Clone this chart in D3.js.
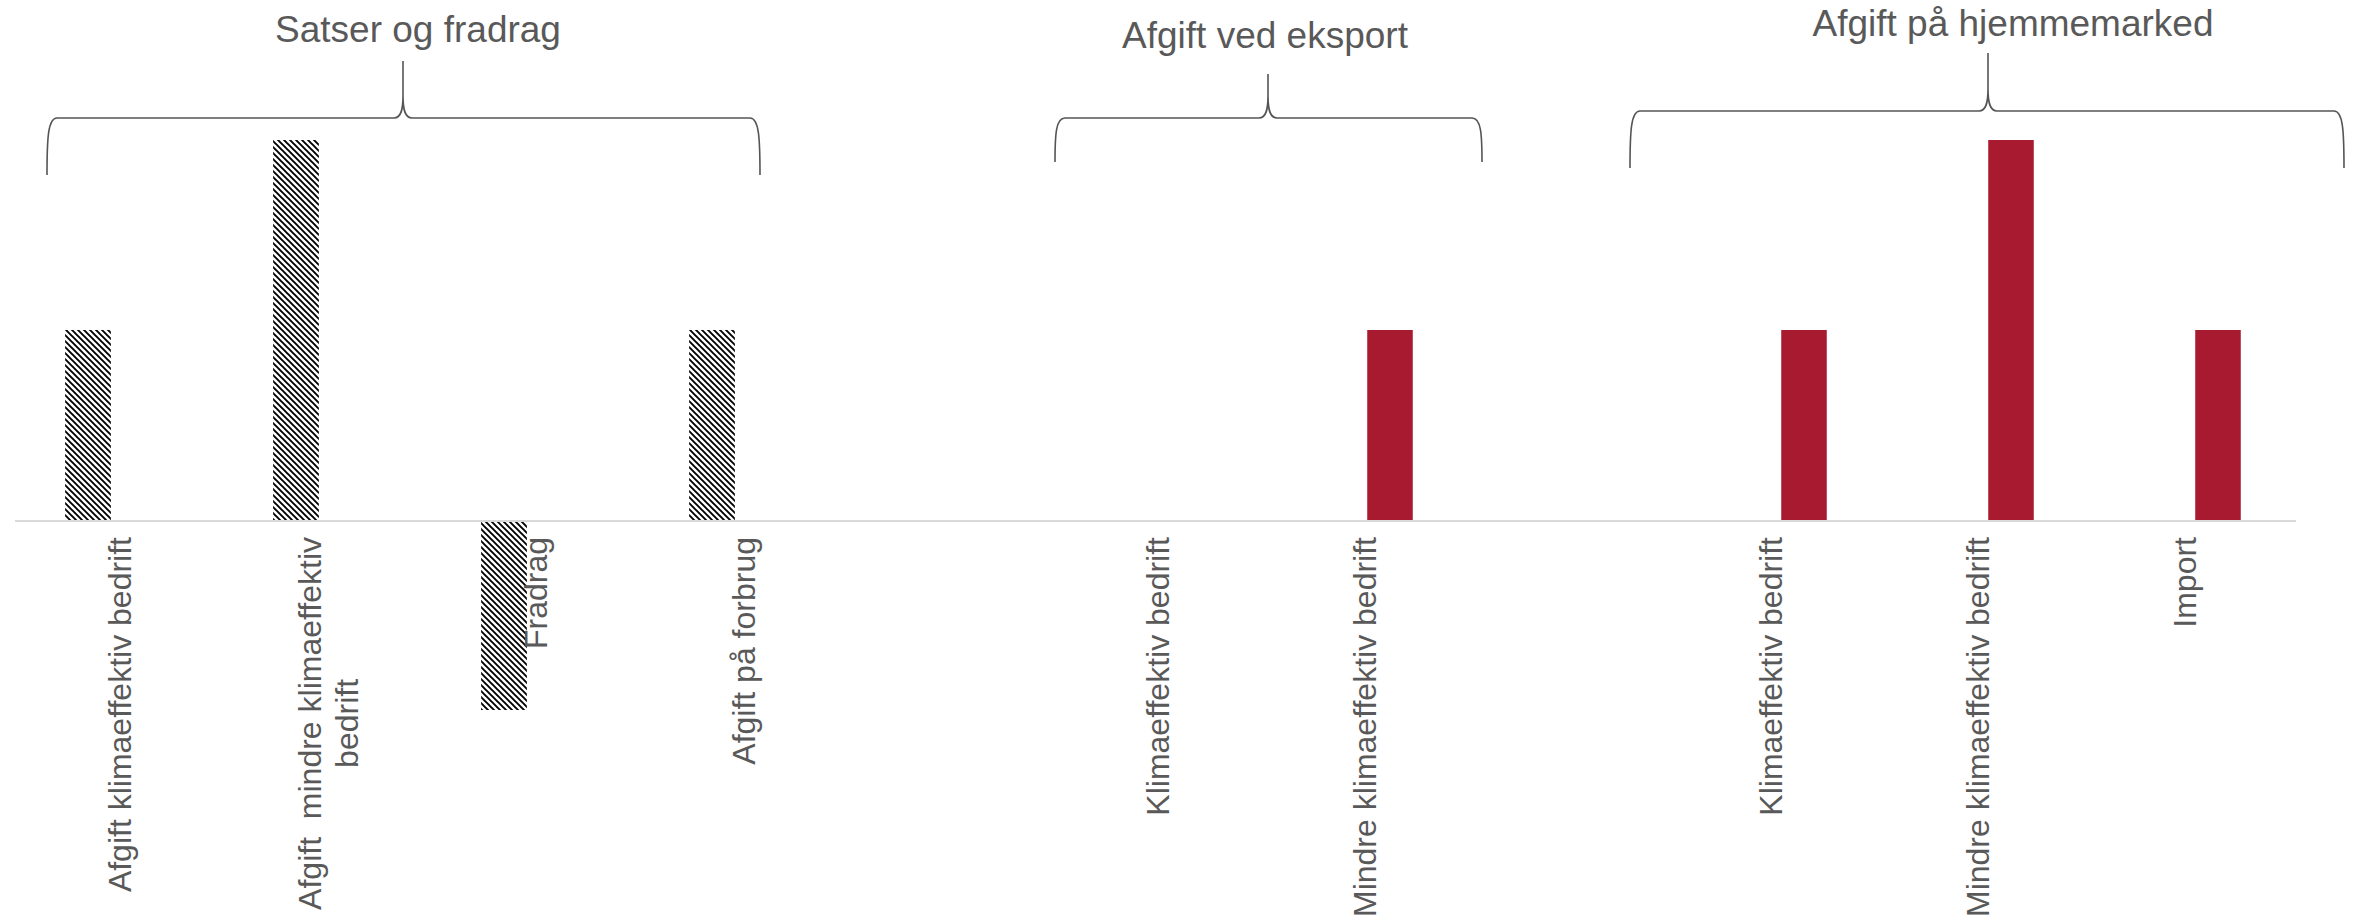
<!DOCTYPE html>
<html>
<head>
<meta charset="utf-8">
<script src="https://cdn.jsdelivr.net/npm/d3@7"></script>
<style>
  html, body { margin: 0; padding: 0; background: #fff; }
  svg { display: block; }
  text { font-family: "Liberation Sans", Arial, sans-serif; fill: #595959; white-space: pre; }
</style>
</head>
<body>
<svg id="chart" width="2354" height="921"></svg>
<script>
// chart data
const groupTitles = ["Satser og fradrag", "Afgift ved eksport", "Afgift på hjemmemarked"];

// left part (hatched bars)
const leftCategories = ["Afgift klimaeffektiv bedrift", "Afgift  mindre klimaeffektiv\nbedrift", "Fradrag", "Afgift på forbrug"];
const leftValues = [1, 2, -1, 1];

// right part (red bars), "" is the empty slot between the two groups
const rightCategories = ["Klimaeffektiv bedrift", "Mindre klimaeffektiv bedrift", "", "Klimaeffektiv bedrift", "Mindre klimaeffektiv bedrift", "Import"];
const rightGroup = [1, 1, null, 2, 2, 2];
const rightValues = [0, 1, null, 1, 2, 1];

const svg = d3.select("#chart");

// pattern for the hatched bars
const defs = svg.append("defs");
const pat = defs.append("pattern")
  .attr("id", "hatch")
  .attr("patternUnits", "userSpaceOnUse")
  .attr("width", 6)
  .attr("height", 6);
pat.append("rect").attr("width", 6).attr("height", 6).attr("fill", "#fff");
pat.append("path")
  .attr("d", "M-1,-1 L7,7 M-4,2 L2,8 M4,-2 L8,2")
  .attr("stroke", "#000")
  .attr("stroke-width", 1.9);

const y = d3.scaleLinear().domain([-1, 2]).range([710, 140]);

const xLeft = d3.scaleBand()
  .domain(d3.range(leftCategories.length))
  .range([-16, 816])
  .paddingInner(0.78)
  .paddingOuter(0.39);

const xRight = d3.scaleBand()
  .domain(d3.range(rightCategories.length))
  .range([1079.5, 2321.5])
  .paddingInner(0.78)
  .paddingOuter(0.39);

// bars
svg.append("g").selectAll("rect")
  .data(leftValues)
  .join("rect")
  .attr("x", (d, i) => xLeft(i))
  .attr("width", xLeft.bandwidth())
  .attr("y", d => y(Math.max(0, d)))
  .attr("height", d => Math.abs(y(d) - y(0)))
  .attr("fill", "url(#hatch)");

svg.append("g").selectAll("rect")
  .data(rightValues.map((v, i) => ({ v, i })).filter(d => d.v))
  .join("rect")
  .attr("x", d => xRight(d.i))
  .attr("width", xRight.bandwidth())
  .attr("y", d => y(Math.max(0, d.v)))
  .attr("height", d => Math.abs(y(d.v) - y(0)))
  .attr("fill", "#A71A30");

// zero line
svg.append("line")
  .attr("x1", 15).attr("x2", 2296)
  .attr("y1", y(0) + 1).attr("y2", y(0) + 1)
  .attr("stroke", "#d9d9d9")
  .attr("stroke-width", 2);

// rotated category labels
const labelTop = 537;
const lineH = 37;

function drawLabel(cx, label, offset) {
  const lines = label.split("\n");
  const g = svg.append("g")
    .attr("transform", "translate(" + cx + "," + labelTop + ") rotate(-90)");
  const t = g.append("text").style("font-size", "32px");
  lines.forEach((ln, i) => {
    t.append("tspan")
      .attr("y", offset + (i - (lines.length - 1) / 2) * lineH)
      .text(ln);
  });
  let maxLen = 0;
  t.selectAll("tspan").each(function () {
    maxLen = Math.max(maxLen, this.getComputedTextLength());
  });
  t.attr("text-anchor", "middle");
  t.selectAll("tspan").attr("x", -maxLen / 2);
}

leftCategories.forEach((c, i) => {
  drawLabel(xLeft(i) + xLeft.bandwidth() / 2, c, 43);
});
rightCategories.forEach((c, i) => {
  if (!c) return;
  const off = rightGroup[i] === 1 ? -14 : -22;
  drawLabel(xRight(i) + xRight.bandwidth() / 2, c, off);
});

// group braces and titles
const braceX0 = [47, 1055, 1630];
const braceX1 = [760, 1482, 2344];
const braceMid = [403, 1268, 1988];
const braceBottom = [175, 162, 168];
const braceLine = [118, 118, 111];
const braceTip = [61, 74, 53];
const titleX = [418, 1265, 2013];
const titleY = [42, 48, 36];

function bracePath(x0, x1, xm, yB, yL, yT) {
  const k = (yB - yL) * 0.35;
  return "M" + x0 + "," + yB +
    " C" + x0 + "," + (yL + k) + " " + (x0 + 1) + "," + yL + " " + (x0 + 10) + "," + yL +
    " L" + (xm - 9) + "," + yL +
    " C" + (xm - 2) + "," + yL + " " + xm + "," + (yL - 8) + " " + xm + "," + (yL - 22) +
    " L" + xm + "," + yT +
    " M" + xm + "," + (yL - 22) +
    " C" + xm + "," + (yL - 8) + " " + (xm + 2) + "," + yL + " " + (xm + 9) + "," + yL +
    " L" + (x1 - 10) + "," + yL +
    " C" + (x1 - 1) + "," + yL + " " + x1 + "," + (yL + k) + " " + x1 + "," + yB;
}

groupTitles.forEach((title, i) => {
  svg.append("path")
    .attr("d", bracePath(braceX0[i], braceX1[i], braceMid[i], braceBottom[i], braceLine[i], braceTip[i]))
    .attr("fill", "none")
    .attr("stroke", "#555")
    .attr("stroke-width", 1.6);
  svg.append("text")
    .attr("x", titleX[i])
    .attr("y", titleY[i])
    .attr("text-anchor", "middle")
    .style("font-size", "37px")
    .text(title);
});
</script>
</body>
</html>
